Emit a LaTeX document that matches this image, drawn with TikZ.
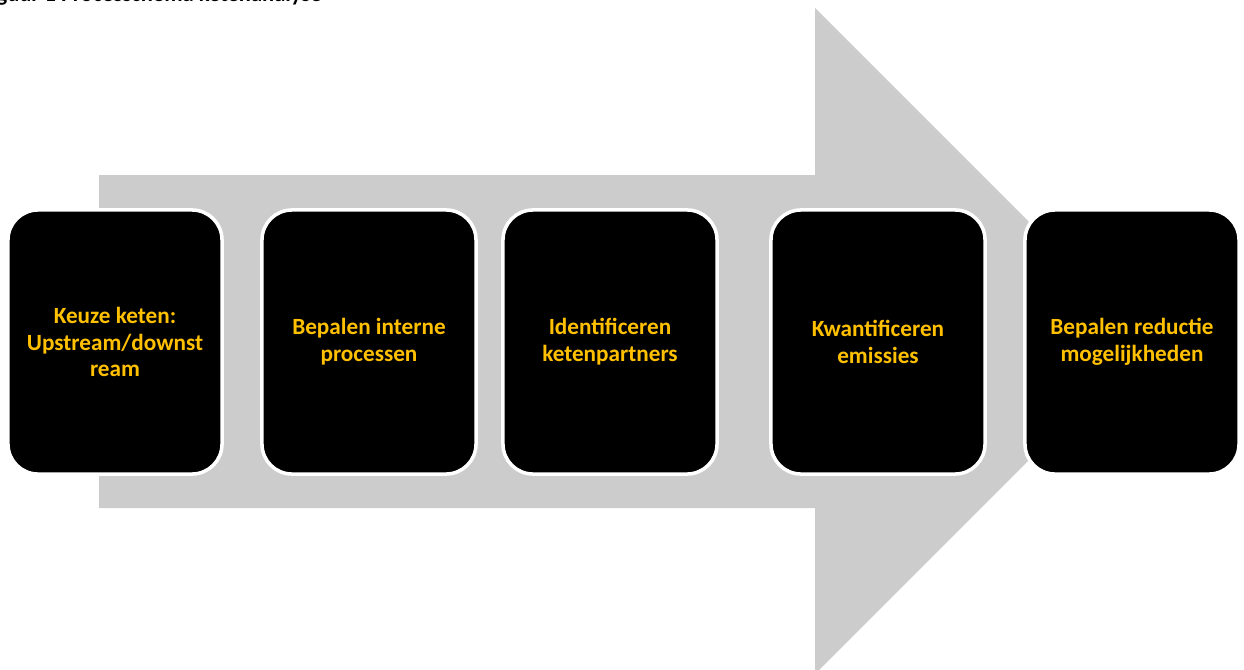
\documentclass[tikz,border=0pt]{standalone}
\usepackage{fontspec}
\setmainfont{Carlito}
\usetikzlibrary{positioning}
\definecolor{pijlgrijs}{HTML}{CCCCCC}
\definecolor{stapgeel}{HTML}{FFC000}

\begin{document}
\begin{tikzpicture}[x=0.025cm, y=-0.025cm,
    stapbox/.style={draw=white, line width=2.5pt, fill=black, rounded corners=0.75cm,
        minimum width=5.35cm, minimum height=6.6cm, align=center,
        text=stapgeel, font=\bfseries\fontsize{16.5}{19}\selectfont}]
    \useasboundingbox (0,0) rectangle (1244,670);
    \clip (0,0) rectangle (1244,670);

    % Titel (afgesneden)
    \node (titel) [anchor=base east, inner sep=0pt, font=\bfseries\fontsize{16}{19}\selectfont]
        at (322,2) {Figuur 1 Processchema ketenanalyse};

    % Pijl
    \fill [pijlgrijs] (99,175) -- (815,175) -- (815,8) -- (1148,341)
        -- (815,674) -- (815,508) -- (99,508) -- cycle;

    % Stappen
    \node (keuze) [stapbox] at (115,342) {Keuze keten:\\Upstream/downst\\ream};
    \node (intern) [stapbox] at (369,342) {Bepalen interne\\processen};
    \node (partners) [stapbox] at (610,342) {Identificeren\\ketenpartners};
    \node (emissies) [stapbox] at (878,342) {Kwantificeren\\emissies};
    \node (reductie) [stapbox] at (1132,342) {Bepalen reductie\\mogelijkheden};
\end{tikzpicture}
\end{document}
